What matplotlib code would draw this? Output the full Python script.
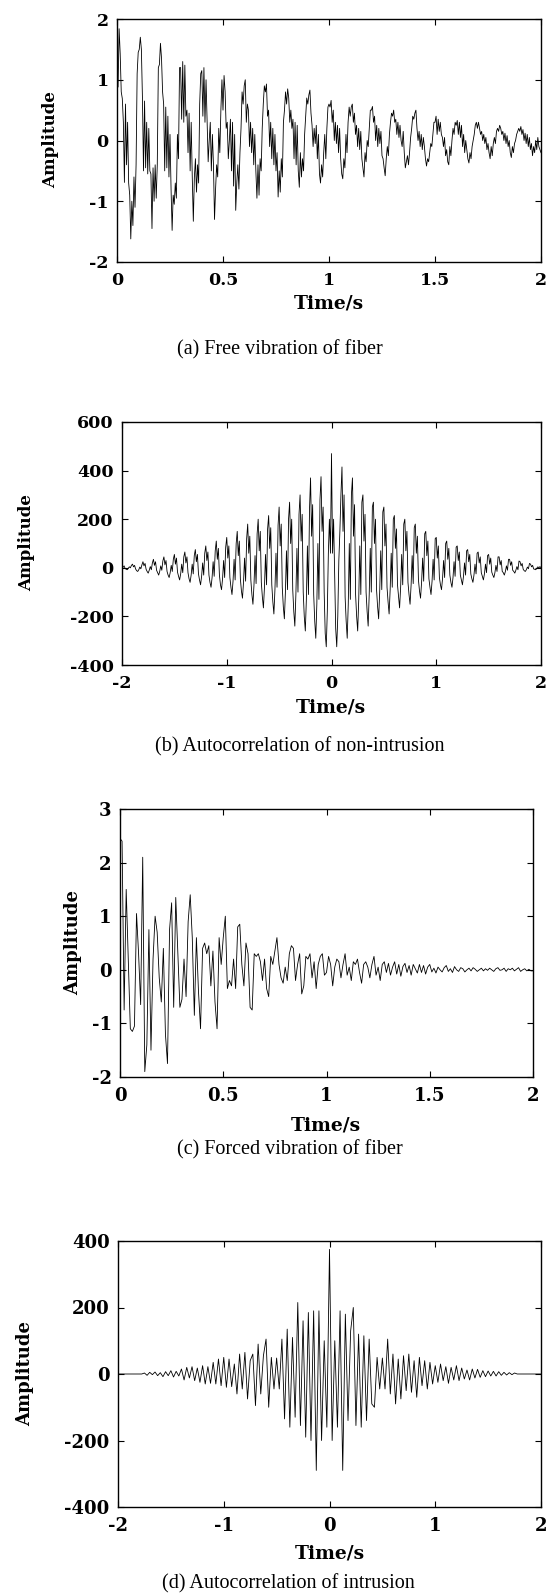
import numpy as np
import matplotlib
matplotlib.use("Agg")
import matplotlib.pyplot as plt

# ---------------- data ----------------
# (a) free vibration of fiber, t = 0..2 s (401 samples)
a_amp = [
    1.24, 0.88, 1.84, 1.43, 0.80, 0.69, 0.30, -0.69, 0.60, -0.40, 0.30, -0.70, -0.90, -1.62, -1.00, -1.40, -0.60, -1.10, -0.40, 1.10,
    1.45, 1.50, 1.70, 1.50, 0.70, -0.50, 0.65, -0.45, 0.30, -0.55, 0.20, -0.50, -0.55, -1.45, -0.45, -1.00, -0.40, -0.95, -0.40, 1.20,
    1.25, 1.60, 1.35, 0.80, 0.60, -0.50, 0.55, -0.45, 0.40, -0.60, 0.10, -0.80, -1.48, -0.90, -1.05, -0.70, -0.95, 0.10, -0.30, 1.20,
    1.20, 0.35, 1.30, 0.30, 1.24, 0.40, 0.50, -0.20, 0.45, -0.50, 0.30, -0.60, -1.33, -0.60, -0.30, -0.85, -0.40, -0.70, 0.60, 1.10,
    1.15, 0.40, 1.20, 0.30, 1.00, 0.30, -0.35, 0.00, 0.30, -0.50, 0.10, -0.40, -1.30, -0.80, -0.40, -0.60, 0.20, -0.20, 0.50, 1.00,
    0.50, 1.07, 0.80, 0.20, 0.30, -0.30, 0.00, 0.35, -0.50, 0.30, -0.75, 0.10, -1.15, -0.70, -0.40, -0.80, -0.20, 0.20, 0.80, 0.60,
    0.90, 1.00, 0.30, 0.60, 0.50, -0.10, 0.30, -0.20, 0.20, -0.40, 0.10, -0.50, -0.95, -0.40, -0.90, -0.30, -0.50, 0.20, 0.60, 0.90,
    0.80, 0.93, 0.40, 0.50, -0.10, 0.30, -0.30, 0.20, -0.40, 0.10, -0.50, -0.20, -0.93, -0.50, -0.85, -0.30, -0.60, 0.30, 0.50, 0.80,
    0.60, 0.85, 0.70, 0.30, 0.50, 0.20, 0.35, -0.30, 0.30, -0.40, 0.25, -0.50, -0.77, -0.20, -0.60, -0.30, -0.50, 0.10, 0.40, 0.70,
    0.60, 0.75, 0.83, 0.45, 0.25, -0.10, 0.20, -0.05, 0.25, -0.30, 0.10, -0.55, -0.70, -0.40, -0.60, -0.20, 0.10, -0.30, 0.20, 0.55,
    0.60, 0.55, 0.66, 0.30, 0.50, 0.00, 0.30, -0.05, 0.25, -0.20, 0.20, -0.30, -0.55, -0.63, -0.30, -0.45, 0.10, -0.20, 0.30, 0.55,
    0.40, 0.55, 0.60, 0.30, 0.45, 0.10, 0.25, -0.10, 0.20, -0.15, 0.15, -0.30, -0.45, -0.60, -0.20, -0.35, 0.00, -0.10, 0.20, 0.50,
    0.50, 0.56, 0.30, 0.40, 0.00, 0.25, -0.10, 0.20, -0.05, 0.15, -0.25, -0.30, -0.45, -0.58, -0.30, -0.10, -0.25, 0.10, 0.30, 0.45,
    0.40, 0.50, 0.30, 0.35, 0.10, 0.30, 0.05, 0.25, 0.00, -0.10, 0.15, -0.20, -0.45, -0.35, -0.25, -0.40, -0.20, 0.05, 0.20, 0.40,
    0.35, 0.45, 0.50, 0.20, 0.00, 0.15, -0.10, 0.10, -0.15, 0.05, -0.10, -0.30, -0.42, -0.30, -0.35, -0.20, -0.05, -0.10, 0.10, 0.30,
    0.30, 0.40, 0.10, 0.35, 0.15, 0.30, 0.10, 0.05, -0.10, 0.05, -0.25, -0.15, -0.35, -0.40, -0.10, -0.25, 0.00, 0.20, 0.10, 0.30,
    0.25, 0.33, 0.10, 0.30, 0.05, 0.25, -0.10, 0.10, -0.20, 0.00, -0.15, -0.30, -0.37, -0.20, -0.30, -0.10, 0.00, 0.10, 0.25, 0.30,
    0.20, 0.30, 0.20, 0.10, 0.15, 0.00, 0.10, -0.05, 0.05, -0.15, -0.05, -0.20, -0.30, -0.10, -0.25, -0.05, 0.05, -0.05, 0.15, 0.20,
    0.15, 0.25, 0.20, 0.10, 0.15, 0.00, 0.12, -0.05, 0.08, -0.10, 0.00, -0.20, -0.28, -0.10, -0.20, -0.05, 0.00, 0.10, 0.15, 0.20,
    0.15, 0.23, 0.10, 0.18, 0.00, 0.12, -0.05, 0.10, -0.10, 0.05, -0.15, -0.05, -0.25, -0.10, -0.20, 0.00, -0.15, 0.05, -0.10, -0.15,
    -0.20,
]

# (b) autocorrelation of non-intrusion, lag -2..2 s (401 samples)
b_amp = [
    5, 2, 8, -3, -6, -8, -2, 4, 0, 10,
    15, 4, 10, -5, -12, -15, -8, 3, -4, 12,
    25, 8, 18, -6, -15, -22, -10, 5, -8, 20,
    35, 10, 25, -10, -20, -30, -15, 8, -10, 28,
    45, 12, 30, -15, -30, -40, -20, 10, -15, 35,
    55, 15, 40, -18, -35, -50, -25, 15, -20, 45,
    65, 20, 45, -20, -45, -60, -30, 15, -25, 50,
    75, 25, 55, -25, -50, -70, -35, 20, -30, 60,
    90, 30, 65, -30, -60, -80, -40, 25, -35, 70,
    110, 35, 80, -30, -70, -90, -45, 30, -40, 85,
    125, 40, 90, -40, -80, -110, -55, 35, -50, 100,
    150, 50, 110, -45, -95, -125, -60, 40, -55, 120,
    180, 60, 130, -50, -110, -150, -70, 50, -65, 140,
    200, 70, 150, -60, -120, -165, -80, 55, -70, 160,
    215, 80, 165, -70, -140, -190, -90, 60, -80, 175,
    250, 90, 180, -80, -160, -210, -100, 70, -90, 200,
    270, 100, 200, -90, -180, -240, -110, 80, -100, 220,
    300, 110, 220, -100, -200, -260, -130, 90, -110, 240,
    370, 130, 260, -110, -220, -290, -150, 100, -130, 280,
    375, 150, 250, -100, -270, -325, -180, 60, 200, 60,
    470, 60, 200, -30, -250, -325, -200, 30, 150, 300,
    415, 150, 300, -120, -220, -290, -150, 100, -130, 300,
    370, 130, 260, -110, -200, -260, -130, 90, -110, 270,
    300, 110, 220, -100, -180, -240, -110, 80, -100, 250,
    270, 100, 200, -90, -160, -210, -100, 70, -90, 230,
    250, 90, 180, -80, -140, -190, -90, 60, -80, 200,
    215, 80, 160, -70, -120, -165, -80, 55, -70, 180,
    200, 70, 150, -60, -110, -150, -70, 50, -65, 165,
    180, 60, 130, -50, -95, -125, -60, 40, -55, 140,
    150, 50, 110, -45, -80, -110, -55, 35, -50, 120,
    125, 40, 90, -40, -70, -90, -45, 30, -40, 100,
    110, 35, 80, -30, -60, -80, -40, 25, -35, 85,
    90, 30, 65, -30, -50, -70, -35, 20, -30, 70,
    75, 25, 55, -25, -45, -60, -30, 15, -25, 60,
    65, 20, 45, -20, -35, -50, -25, 15, -20, 50,
    55, 15, 40, -18, -30, -40, -20, 10, -15, 45,
    45, 12, 30, -15, -20, -30, -15, 8, -10, 35,
    35, 10, 25, -10, -15, -22, -10, 5, -8, 28,
    25, 8, 18, -6, -12, -15, -8, 3, -4, 18,
    15, 4, 10, -5, -6, -8, -2, 4, 0, 5,
    0,
]

# (c) forced vibration of fiber, t = 0..2 s (201 samples)
c_amp = [
    2.45, 2.40, -0.75, 1.50, 0.20, -1.10, -1.15, -1.05, 1.05, 0.30,
    -0.65, 2.10, -1.90, -1.40, 0.75, -1.50, 0.20, 1.00, 0.70, -0.15,
    -0.60, 0.40, -1.20, -1.75, 0.75, 1.25, -0.70, 1.35, 0.30, -0.70,
    -0.55, 0.20, -0.50, 0.90, 1.40, 0.60, -0.85, 0.60, -0.40, -1.10,
    0.40, 0.50, 0.30, 0.45, -0.30, 0.35, -0.60, -1.10, 0.60, 0.10,
    0.60, 1.00, -0.35, -0.20, -0.30, 0.20, -0.35, 0.80, 0.85, 0.10,
    -0.30, 0.50, 0.30, -0.70, -0.75, 0.30, 0.25, 0.30, 0.15, -0.20,
    0.20, -0.35, -0.50, 0.25, 0.10, 0.35, 0.60, 0.10, -0.15, -0.25,
    0.05, -0.20, 0.30, 0.45, 0.40, -0.20, 0.10, 0.30, -0.45, -0.30,
    0.25, 0.20, 0.30, -0.15, 0.15, -0.35, 0.10, 0.25, 0.30, -0.10,
    -0.05, 0.25, 0.10, -0.30, 0.05, 0.20, 0.15, -0.15, 0.10, 0.30,
    -0.10, 0.05, -0.20, 0.15, 0.10, 0.20, -0.05, -0.25, 0.10, 0.15,
    0.05, -0.15, 0.10, 0.25, -0.10, 0.05, -0.20, 0.10, 0.15, -0.05,
    0.12, -0.10, 0.05, 0.15, -0.08, 0.10, -0.12, 0.06, 0.12, -0.05,
    0.08, -0.10, 0.10, 0.02, -0.06, 0.10, -0.05, 0.08, -0.08, 0.05,
    0.10, -0.04, 0.03, -0.06, 0.05, 0.00, -0.04, 0.04, 0.08, -0.03,
    0.02, -0.05, 0.06, 0.00, -0.03, 0.04, 0.02, -0.04, 0.00, 0.03,
    -0.02, 0.04, 0.01, -0.03, 0.00, 0.03, -0.02, 0.02, -0.01, 0.03,
    0.00, -0.03, 0.02, 0.04, -0.01, 0.00, 0.03, -0.03, 0.02, 0.00,
    0.03, -0.02, 0.01, 0.04, -0.03, 0.00, 0.02, -0.02, 0.01, -0.02,
    -0.02,
]

# (d) autocorrelation of intrusion, lag -2..2 s (161 samples, 0.025 s apart)
d_amp = (
    [0] * 10
    + [3, -4, 5, -2, 6, -5, 4, -8, 7, -5, 10, -9, 8, -6]
    + [15, -18, 20, -12, 22, -20, 18, -25]
    + [25, -30, 22, -28, 35, -30, 45, -35]
    + [50, -40, 45, -38, 30, -60, 60, -45]
    + [65, -75, 40, 60, -95, 90, -60, 55]
    + [105, -100, 50, -45, 48, -45, 105, -135]
    + [135, -160, 110, -130, 215, -155, 160, -190]
    + [185, -200, 190, -290, 190, -200, 100, -160]
    + [375]
    + [-200, 100, -160, 190, -290, 180, -140, 130]
    + [200, -155, 120, -160, 115, -140, 105, -90]
    + [-100, 50, -45, 48, -45, 105, -60, 60]
    + [-90, 45, -75, 55, -50, 60, -55, 40]
    + [-70, 50, -35, 40, -45, 35, -30, 25]
    + [-25, 30, -20, 22, -28, 20, -18, 25]
    + [-20, 18, -15, 12, -18, 15, -12, 14]
    + [-10, 10, -8, 9, -6, 8, -6, 7]
    + [-4, 5, -3, 4, -2, 3]
    + [0] * 10
)

time_ticks = [0, 0.5, 1, 1.5, 2]
time_labels = ["0", "0.5", "1", "1.5", "2"]
lag_ticks = [-2, -1, 0, 1, 2]
lag_labels = ["-2", "-1", "0", "1", "2"]
a_yticks = [-2, -1, 0, 1, 2]
b_yticks = [-400, -200, 0, 200, 400, 600]
c_yticks = [-2, -1, 0, 1, 2, 3]
d_yticks = [-400, -200, 0, 200, 400]
captions = ["(a) Free vibration of fiber",
            "(b) Autocorrelation of non-intrusion",
            "(c) Forced vibration of fiber",
            "(d) Autocorrelation of intrusion"]

# ---------------- figure ----------------
W, H = 558, 1593
fig = plt.figure(figsize=(W / 100, H / 100), dpi=100)
fig.patch.set_facecolor("white")

BOLD = dict(family="DejaVu Serif", weight="bold")
CAP = dict(family="Liberation Serif", size=14.5)


def add_axes_px(l, t, r, b):
    return fig.add_axes([l / W, 1 - b / H, (r - l) / W, (b - t) / H])


def ftext(x, y, s, **kw):
    fig.text(x / W, 1 - y / H, s, ha="center", va="center", **kw)


def style(ax, xlim, ylim, xticks, xlabels, yticks, fs):
    ax.set_xlim(*xlim)
    ax.set_ylim(*ylim)
    ax.set_xticks(xticks)
    ax.set_xticklabels(xlabels, size=fs, **BOLD)
    ax.set_yticks(yticks)
    ax.set_yticklabels([str(v) for v in yticks], size=fs, **BOLD)
    ax.tick_params(direction="in", top=True, right=True, length=4, width=0.8)
    ax.tick_params(axis="x", pad=7)
    ax.tick_params(axis="y", pad=6)
    for s in ax.spines.values():
        s.set_linewidth(1.0)
        s.set_color("black")


panels = [
    dict(box=(117, 19, 541, 262), t0=0, t1=2, y=a_amp, ylim=(-2, 2), xt=time_ticks, xl=time_labels,
         yt=a_yticks, fs=12.5, tl=(329, 303), amp=(51, 140, 12), cap=(280, 350)),
    dict(box=(122, 422, 541, 665), t0=-2, t1=2, y=b_amp, ylim=(-400, 600), xt=lag_ticks, xl=lag_labels,
         yt=b_yticks, fs=12.5, tl=(331, 707), amp=(27, 543, 12), cap=(300, 747)),
    dict(box=(120, 809, 533, 1077), t0=0, t1=2, y=c_amp, ylim=(-2, 3), xt=time_ticks, xl=time_labels,
         yt=c_yticks, fs=13, tl=(326, 1125), amp=(73, 943, 13), cap=(290, 1150)),
    dict(box=(118, 1241, 541, 1507), t0=-2, t1=2, y=d_amp, ylim=(-400, 400), xt=lag_ticks, xl=lag_labels,
         yt=d_yticks, fs=13, tl=(330, 1553), amp=(25, 1374, 13), cap=(288, 1584)),
]

for p, cap in zip(panels, captions):
    ax = add_axes_px(*p["box"])
    vals = np.asarray(p["y"], dtype=float)
    t = np.linspace(p["t0"], p["t1"], len(vals))
    ax.plot(t, vals, color="black", linewidth=0.6)
    style(ax, (p["t0"], p["t1"]), p["ylim"], p["xt"], p["xl"], p["yt"], p["fs"])
    ftext(p["tl"][0], p["tl"][1], "Time/s", size=13.5, **BOLD)
    ftext(p["amp"][0], p["amp"][1], "Amplitude", size=p["amp"][2], rotation=90, **BOLD)
    ftext(p["cap"][0], p["cap"][1], cap, **CAP)

fig.savefig("out.png", dpi=100, facecolor="white")
